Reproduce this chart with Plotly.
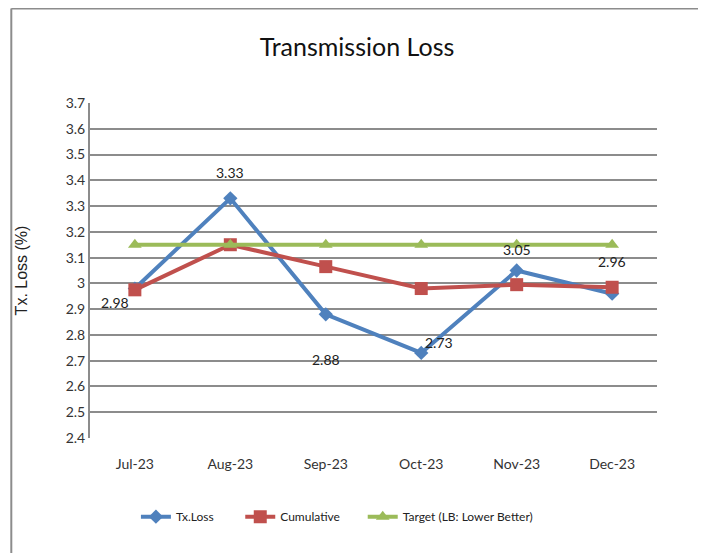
import plotly.graph_objects as go

months = ["Jul-23", "Aug-23", "Sep-23", "Oct-23", "Nov-23", "Dec-23"]
tx_loss = [2.98, 3.33, 2.88, 2.73, 3.05, 2.96]
cumulative = [2.975, 3.15, 3.065, 2.98, 2.995, 2.985]
target = [3.15, 3.15, 3.15, 3.15, 3.15, 3.15]
y_ticks = [2.4, 2.5, 2.6, 2.7, 2.8, 2.9, 3.0, 3.1, 3.2, 3.3, 3.4, 3.5, 3.6, 3.7]
y_ticklabels = ["2.4", "2.5", "2.6", "2.7", "2.8", "2.9", "3", "3.1", "3.2", "3.3", "3.4", "3.5", "3.6", "3.7"]

NARROW = "Lato, Roboto, sans-serif"

fig = go.Figure()
fig.add_trace(go.Scatter(
    x=months, y=tx_loss, name="Tx.Loss", mode="lines+markers",
    line=dict(color="#4F81BD", width=4),
    marker=dict(symbol="diamond", size=11, color="#4F81BD"),
    legend="legend",
))
fig.add_trace(go.Scatter(
    x=months, y=cumulative, name="Cumulative", mode="lines+markers",
    line=dict(color="#C0504D", width=4),
    marker=dict(symbol="square", size=13, color="#C0504D"),
    legend="legend2",
))
fig.add_trace(go.Scatter(
    x=months, y=target, name="Target (LB: Lower Better)", mode="lines+markers",
    line=dict(color="#9BBB59", width=4),
    marker=dict(symbol="triangle-up", size=12, color="#9BBB59"),
    legend="legend3",
))

# data labels for Tx.Loss (offsets in px)
offsets = [(-20, -14), (0, 26), (0, -45), (18, 10), (0, 21), (0, 32)]
for m, v, (dx, dy) in zip(months, tx_loss, offsets):
    fig.add_annotation(x=m, y=v, text=f"{v:.2f}", showarrow=False,
                       xshift=dx, yshift=dy,
                       font=dict(family=NARROW, size=14, color="#222222"))

# outer chart border (top and left edges)
fig.add_shape(type="line", xref="paper", yref="paper",
              x0=-0.1388, x1=1.1, y0=1.282, y1=1.282,
              line=dict(color="#8c8c8c", width=2))
fig.add_shape(type="line", xref="paper", yref="paper",
              x0=-0.1388, x1=-0.1388, y0=1.282, y1=-0.4,
              line=dict(color="#8c8c8c", width=2))

legend_style = dict(orientation="h", xanchor="left", y=-0.235, yanchor="middle",
                    font=dict(family=NARROW, size=12, color="#222222"),
                    itemwidth=30, bgcolor="rgba(0,0,0,0)")

fig.update_layout(
    width=698, height=545,
    margin=dict(l=80, r=49, t=95, b=115),
    paper_bgcolor="white", plot_bgcolor="white",
    title=dict(text="Transmission Loss", x=0.5, xanchor="center", y=0.928, yanchor="middle",
               font=dict(family=NARROW, size=25, color="#111111")),
    showlegend=True,
    legend=dict(x=0.081, **legend_style),
    legend2=dict(x=0.265, **legend_style),
    legend3=dict(x=0.481, **legend_style),
    font=dict(family=NARROW),
)
fig.update_xaxes(
    type="category", range=[-0.47, 5.47],
    showgrid=False, showline=False, zeroline=False, ticks="",
    ticklabelstandoff=16,
    tickfont=dict(family=NARROW, size=14, color="#333333"),
)
fig.update_yaxes(
    range=[2.4, 3.7], tickvals=y_ticks, ticktext=y_ticklabels,
    showgrid=True, gridcolor="#8c8c8c", gridwidth=2, ticks="",
    showline=True, linecolor="#8c8c8c", linewidth=2, zeroline=False,
    tickfont=dict(family=NARROW, size=14, color="#333333"),
    title=dict(text="Tx. Loss (%)", standoff=34,
               font=dict(family="Liberation Sans, Arial, sans-serif", size=16, color="#222222")),
)
fig.write_html("out.html")
